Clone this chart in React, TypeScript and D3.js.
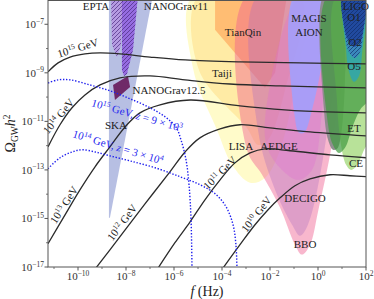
import React from "react";
import * as d3 from "d3";

const W = 374;
const H = 299;
const margin = { top: 0, right: 8, bottom: 32, left: 48 };

// axis limits, log10 units
const fMin = -11.25;
const fMax = 2;
const oMin = -17;
const oMax = -6;
const xMajor = [-10, -8, -6, -4, -2, 0, 2];
const xMinor = [-11, -9, -7, -5, -3, -1, 1];
const yMajor = [-17, -15, -13, -11, -9, -7];
const yMinor = [-16, -14, -12, -10, -8];

// inflationary spectra, [log10 f, log10 Omega h^2]
const curve15 = [[-11.25, -8.96], [-10.83, -8.59], [-10.33, -8.35], [-9.71, -8.22], [-9.08, -8.18], [-8.25, -8.22], [-7.0, -8.35], [-5.54, -8.47], [-3.25, -8.55], [-0.75, -8.59], [2.0, -8.63]];
const curve14 = [[-11.25, -12.05], [-10.75, -11.14], [-10.25, -10.44], [-9.71, -9.91], [-9.08, -9.5], [-8.25, -9.21], [-7.0, -9.13], [-5.54, -9.29], [-3.67, -9.46], [-1.58, -9.54], [2.0, -9.62]];
const curve13 = [[-11.25, -16.04], [-10.54, -14.85], [-9.92, -13.82], [-9.29, -12.87], [-8.67, -12.05], [-8.04, -11.23], [-7.42, -10.65], [-6.58, -10.32], [-5.33, -10.12], [-3.25, -10.36], [-0.75, -10.57], [2.0, -10.65]];
const curve12 = [[-9.3, -17.1], [-8.25, -15.75], [-7.21, -14.4], [-6.17, -13.08], [-5.54, -12.26], [-4.92, -11.68], [-4.08, -11.31], [-3.25, -11.14], [-2.0, -11.27], [-0.33, -11.43], [2.0, -11.6]];
const curve11 = [[-6.7, -17.1], [-5.96, -16.0], [-5.33, -15.14], [-4.71, -14.23], [-4.08, -13.41], [-3.46, -12.71], [-2.83, -12.3], [-2.21, -12.13], [-1.17, -12.21], [0.5, -12.38], [2.0, -12.5]];
const curve10 = [[-4.0, -17.1], [-3.25, -16.08], [-2.625, -15.26], [-2.08, -14.64], [-1.58, -14.15], [-0.96, -13.65], [-0.33, -13.37], [0.5, -13.2], [1.33, -13.24], [2.0, -13.28]];

// dotted spectra with early matter era
const dotted15 = [[-11.25, -9.42], [-10.83, -9.29], [-10.33, -9.29], [-9.5, -9.5], [-8.67, -9.74], [-7.83, -10.07], [-7.0, -10.44], [-6.375, -10.81], [-5.92, -11.23], [-5.71, -11.76], [-5.5, -12.58], [-5.375, -13.61], [-5.29, -15.05], [-5.25, -17.1]];
const dotted14 = [[-11.25, -12.95], [-10.75, -12.5], [-10.25, -12.26], [-9.83, -12.17], [-9.29, -12.26], [-8.67, -12.42], [-7.83, -12.63], [-6.79, -12.91], [-5.75, -13.28], [-4.92, -13.61], [-4.29, -13.98], [-3.83, -14.52], [-3.54, -15.26], [-3.42, -16.08], [-3.375, -17.1]];

// sensitivity regions
const skaSens = [[-8.71, -5.8], [-6.88, -5.8], [-8.67, -14.97], [-8.71, -14.97]];
const eptaSens = [[-8.625, -5.8], [-8.58, -7.85], [-8.375, -8.35], [-8.21, -7.85], [-8.125, -5.8]];
const ng11Sens = [[-8.17, -5.8], [-8.17, -8.88], [-8.08, -9.13], [-7.96, -9.05], [-7.71, -8.06], [-7.5, -5.8]];
const ng125Signal = [[-8.54, -9.5], [-7.92, -9.13], [-7.83, -9.58], [-8.46, -10.12]];
const lisaSens = [[-5.21, -5.8], [-5.21, -8.8], [-4.21, -11.35], [-3.58, -12.79], [-2.83, -13.53], [-2.21, -13.33], [-1.58, -12.17], [-0.75, -8.47], [-0.33, -5.8]];
const taijiSens = [[-4.96, -5.8], [-4.96, -8.88], [-2.96, -11.27], [-2.5, -11.97], [-2.08, -11.76], [-1.375, -9.7], [-0.75, -5.8]];
const tianqinSens = [[-4.29, -5.8], [-4.29, -7.23], [-2.21, -9.62], [-1.79, -9.0], [-1.29, -5.8]];
const bboSens = [[-2.96, -5.8], [-2.96, -12.17], [-2.33, -13.2], [-1.58, -14.56], [-0.96, -16.08], [-0.67, -16.49], [-0.33, -16.08], [0.0, -14.72], [0.71, -11.14], [1.125, -5.8]];
const decigoSens = [[-2.5, -5.8], [-2.5, -11.35], [-1.79, -13.82], [-1.08, -15.26], [-0.75, -15.71], [-0.42, -15.26], [0.42, -11.14], [0.83, -5.8]];
const aedgeSens = [[-0.75, -5.8], [-2.21, -10.94], [-2.08, -12.17], [-1.5, -13.0], [-0.83, -13.41], [-0.25, -13.0], [0.17, -10.53], [0.42, -5.8]];
const magisSens = [[-0.96, -5.8], [-0.96, -10.86], [-0.79, -11.47], [-0.58, -11.47], [-0.25, -10.53], [0.25, -8.06], [0.42, -5.8]];
const grayBand = [[0.25, -5.8], [0.25, -10.53], [0.42, -11.76], [0.625, -12.17], [0.83, -12.09], [0.83, -5.8]];
const ceSens = [[0.79, -5.8], [0.79, -10.12], [0.96, -11.97], [1.17, -12.79], [1.375, -13.0], [1.625, -12.83], [1.92, -12.17], [2.25, -11.56], [2.25, -5.8]];
const etSens = [[0.42, -5.8], [0.42, -11.14], [0.625, -11.97], [0.875, -12.3], [1.125, -12.09], [1.42, -11.27], [1.75, -10.53], [2.25, -9.91], [2.25, -5.8]];
const ligoO5 = [[1.125, -5.8], [1.17, -8.06], [1.29, -8.96], [1.5, -9.37], [1.71, -9.13], [1.83, -8.26], [1.92, -5.8]];
const ligoO2 = [[1.08, -5.8], [1.125, -7.44], [1.29, -8.14], [1.54, -8.39], [1.75, -8.14], [1.875, -7.44], [1.92, -5.8]];
const ligoO1 = [[1.04, -5.8], [1.08, -7.03], [1.25, -7.65], [1.5, -7.93], [1.75, -7.73], [1.92, -7.03], [1.96, -5.8]];

// plain labels: text, log10 f, log10 Omega
const labels: [string, number, number][] = [
  ["EPTA", -9.25, -6.41],
  ["NANOGrav11", -5.92, -6.41],
  ["NANOGrav12.5", -6.21, -9.87],
  ["SKA", -8.42, -11.31],
  ["TianQin", -3.125, -7.48],
  ["Taiji", -4.0, -9.17],
  ["MAGIS", -0.375, -6.91],
  ["AION", -0.375, -7.48],
  ["LIGO", 1.58, -6.41],
  ["O1", 1.5, -6.86],
  ["O2", 1.54, -7.89],
  ["O5", 1.5, -8.88],
  ["ET", 1.5, -11.43],
  ["CE", 1.58, -12.87],
  ["LISA", -3.21, -12.17],
  ["AEDGE", -1.625, -12.17],
  ["DECIGO", -0.54, -14.31],
  ["BBO", -0.54, -16.21],
];

// reheating labels on black curves: exponent, log f, log Omega, angle
const gevLabels: [string, number, number, number][] = [
  ["15", -9.92, -8.26, -17],
  ["14", -10.58, -10.98, -50],
  ["13", -10.33, -14.6, -57],
  ["12", -7.92, -15.34, -53],
  ["11", -3.875, -13.33, -45],
  ["10", -2.33, -15.01, -52],
];

const blueLabels: [string, string, string, number, number, number][] = [
  ["15", "9", "3", -7.58, -10.9, 16],
  ["14", "3", "4", -8.375, -12.21, 17],
];

const FONT = "'Liberation Serif', 'DejaVu Serif', serif";

export default function App() {
  const x = d3.scaleLog().domain([10 ** fMin, 10 ** fMax]).range([margin.left, W - margin.right]);
  const y = d3.scaleLog().domain([10 ** oMin, 10 ** oMax]).range([H - margin.bottom, margin.top]);
  const X = (e: number) => x(10 ** e);
  const Y = (e: number) => y(10 ** e);

  const smoothLine = d3.line<number[]>().x(d => X(d[0])).y(d => Y(d[1])).curve(d3.curveCatmullRom.alpha(0.5));
  const smoothArea = d3.line<number[]>().x(d => X(d[0])).y(d => Y(d[1])).curve(d3.curveCatmullRomClosed.alpha(0.5));
  const poly = d3.line<number[]>().x(d => X(d[0])).y(d => Y(d[1])).curve(d3.curveLinearClosed);

  const regions = [
    { pts: lisaSens, fill: "#fff68a", op: 0.45, smooth: true },
    { pts: taijiSens, fill: "#ffc850", op: 0.3, smooth: true },
    { pts: tianqinSens, fill: "#ff8a3c", op: 0.48, smooth: false },
    { pts: bboSens, fill: "#f06090", op: 0.45, smooth: true },
    { pts: decigoSens, fill: "#b070c0", op: 0.35, smooth: true },
    { pts: aedgeSens, fill: "#e070d0", op: 0.35, smooth: true },
    { pts: magisSens, fill: "#a0a0ff", op: 0.85, smooth: true },
    { pts: grayBand, fill: "#8a8a8a", op: 0.95, smooth: true },
    { pts: ceSens, fill: "#9ad66e", op: 0.7, smooth: true },
    { pts: etSens, fill: "#3f9a3f", op: 0.7, smooth: true },
    { pts: ligoO5, fill: "#2aa5b5", op: 0.8, smooth: true },
    { pts: ligoO2, fill: "#3c7fc0", op: 0.8, smooth: true, hatch: "hatchBlue" },
    { pts: ligoO1, fill: "#1d3f9a", op: 0.85, smooth: true, hatch: "hatchBlue" },
    { pts: skaSens, fill: "#7080c8", op: 0.5, smooth: false },
    { pts: eptaSens, fill: "#b48ce0", op: 0.7, smooth: false, hatch: "hatchPurple" },
    { pts: ng11Sens, fill: "#8a50e0", op: 0.75, smooth: false, hatch: "hatchPurple" },
    { pts: ng125Signal, fill: "#6f2a68", op: 1, smooth: false },
  ];

  const blackCurves = [curve15, curve14, curve13, curve12, curve11, curve10];
  const x0 = margin.left, x1 = W - margin.right, y0 = margin.top, y1 = H - margin.bottom;

  return (
    <svg width={W} height={H} style={{ position: "absolute", left: 0, top: 0, background: "#fff" }} fontFamily={FONT}>
      <defs>
        <clipPath id="plot">
          <rect x={x0} y={y0} width={x1 - x0} height={y1 - y0} />
        </clipPath>
        <pattern id="hatchPurple" patternUnits="userSpaceOnUse" width={4} height={4}>
          <path d="M-1,1 l2,-2 M0,4 l4,-4 M3,5 l2,-2" stroke="#4b2a80" strokeWidth={0.7} />
        </pattern>
        <pattern id="hatchBlue" patternUnits="userSpaceOnUse" width={4} height={4}>
          <path d="M-1,1 l2,-2 M0,4 l4,-4 M3,5 l2,-2" stroke="#12306e" strokeWidth={0.7} />
        </pattern>
      </defs>

      <g clipPath="url(#plot)">
        {regions.map((r, i) => {
          const d = (r.smooth ? smoothArea : poly)(r.pts) || "";
          return (
            <g key={i}>
              <path d={d} fill={r.fill} fillOpacity={r.op} />
              {r.hatch && <path d={d} fill={`url(#${r.hatch})`} />}
            </g>
          );
        })}
        {blackCurves.map((c, i) => (
          <path key={i} d={smoothLine(c) || ""} fill="none" stroke="#2b2b2b" strokeWidth={1.3} />
        ))}
        {[dotted15, dotted14].map((c, i) => (
          <path key={i} d={smoothLine(c) || ""} fill="none" stroke="#1f1fee" strokeWidth={1.4} strokeDasharray="1.4 1.7" />
        ))}
      </g>

      {/* labels */}
      {labels.map(([t, lf, lo]) => (
        <text key={t} x={X(lf)} y={Y(lo)} textAnchor="middle" fontSize={11} fill="#222">{t}</text>
      ))}
      {gevLabels.map(([e, lf, lo, a]) => (
        <text key={e} transform={`translate(${X(lf)},${Y(lo)}) rotate(${a})`} y={-3.5} textAnchor="middle" fontSize={11} fill="#222">
          <tspan>10</tspan>
          <tspan dy={-4} fontSize={7.5}>{e}</tspan>
          <tspan dy={4}>{"\u00a0GeV"}</tspan>
        </text>
      ))}
      {blueLabels.map(([e, m, p, lf, lo, a]) => (
        <text key={e} transform={`translate(${X(lf)},${Y(lo)}) rotate(${a})`} textAnchor="middle" fontSize={11} fill="#1f1fee">
          <tspan>10</tspan>
          <tspan dy={-4} fontSize={7.5}>{e}</tspan>
          <tspan dy={4}>{"\u00a0GeV, "}</tspan>
          <tspan fontStyle="italic">z</tspan>
          <tspan>{` = ${m} \u00d7 10`}</tspan>
          <tspan dy={-4} fontSize={7.5}>{p}</tspan>
        </text>
      ))}

      {/* frame */}
      <rect x={x0} y={y0 + 0.5} width={x1 - x0} height={y1 - y0 - 0.5} fill="none" stroke="#555" strokeWidth={1} />

      {/* x ticks */}
      {xMajor.map(e => (
        <g key={e}>
          <line x1={X(e)} x2={X(e)} y1={y1} y2={y1 + 3.5} stroke="#555" />
          <text x={X(e)} y={y1 + 13} textAnchor="middle" fontSize={11} fill="#333">
            <tspan>10</tspan>
            <tspan dy={-4.5} fontSize={7.5}>{e < 0 ? `\u2212${-e}` : `${e}`}</tspan>
          </text>
        </g>
      ))}
      {xMinor.map(e => (
        <line key={e} x1={X(e)} x2={X(e)} y1={y1} y2={y1 + 2} stroke="#555" strokeWidth={0.8} />
      ))}

      {/* y ticks */}
      {yMajor.map(e => (
        <g key={e}>
          <line x1={x0 - 3.5} x2={x0} y1={Y(e)} y2={Y(e)} stroke="#555" />
          <text x={x0 - 4} y={Y(e) + 4} textAnchor="end" fontSize={11} fill="#333">
            <tspan>10</tspan>
            <tspan dy={-4.5} fontSize={7.5}>{`\u2212${-e}`}</tspan>
          </text>
        </g>
      ))}
      {yMinor.map(e => (
        <line key={e} x1={x0 - 2} x2={x0} y1={Y(e)} y2={Y(e)} stroke="#555" strokeWidth={0.8} />
      ))}

      {/* axis titles */}
      <text transform={`translate(15,${(y0 + y1) / 2}) rotate(-90)`} textAnchor="middle" fontSize={14} fill="#222">
        <tspan>Ω</tspan>
        <tspan dy={3} fontSize={9.5}>GW</tspan>
        <tspan dy={-3} fontStyle="italic">h</tspan>
        <tspan dy={-5} fontSize={9.5}>2</tspan>
      </text>
      <text x={(x0 + x1) / 2} y={H - 3} textAnchor="middle" fontSize={14} fill="#222">
        <tspan fontStyle="italic">f</tspan>
        <tspan>{"\u00a0(Hz)"}</tspan>
      </text>
    </svg>
  );
}
